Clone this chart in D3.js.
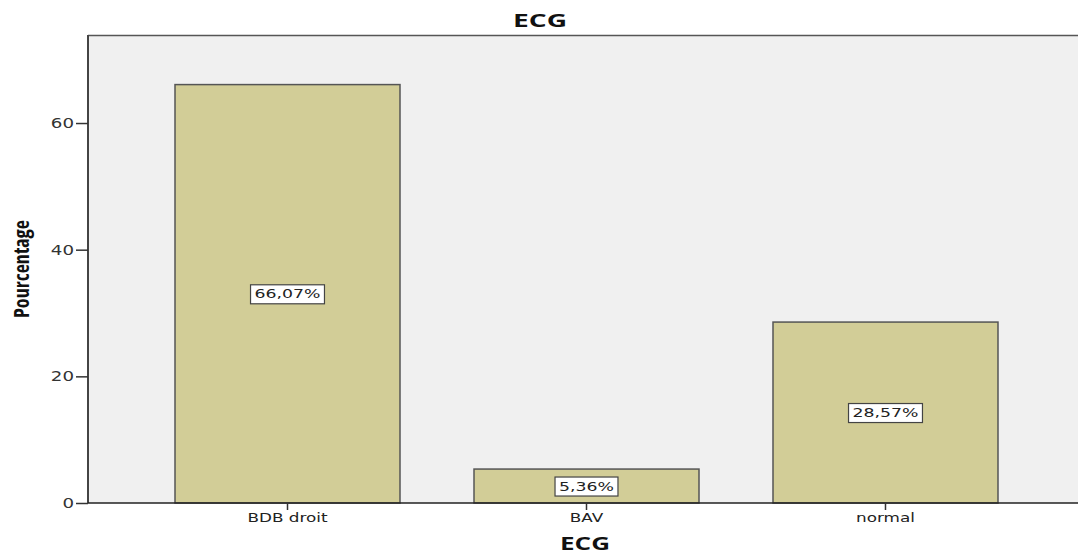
<html>
  <head>
    <title>ECG</title>
    <script src="https://d3js.org/d3.v7.min.js"></script>
    <style>
      body { margin: 0; background: #fff; }
    </style>
  </head>
  <body>
    <svg id="chart" width="1078" height="555"></svg>
    <script type="text/javascript">

// data
var categories = ["BDB droit", "BAV", "normal"];
var percents = [66.07, 5.36, 28.57];
var labels = ["66,07%", "5,36%", "28,57%"];
var yTicks = [0, 20, 40, 60];

var svg = d3.select("#chart");

// plot area (note: "top" is taken by window.top)
var pLeft = 88, pTop = 35, pBottom = 503, pRight = 1078;

// the source picture is stretched sideways, so widen the glyphs too
function stretch(sel, f) {
  sel.each(function () {
    var w = this.getComputedTextLength();
    d3.select(this).attr("textLength", w * f).attr("lengthAdjust", "spacingAndGlyphs");
  });
}

// scales
var x = d3.scaleBand()
  .domain(categories)
  .range([pLeft, 1085])
  .paddingInner(0.2475)
  .paddingOuter(0.291);

var y = d3.scaleLinear()
  .domain([0, 73.9])
  .range([pBottom, pTop]);

// plot background
svg.append("rect")
  .attr("x", pLeft).attr("y", pTop)
  .attr("width", pRight - pLeft).attr("height", pBottom - pTop)
  .style("fill", "#f0f0f0");

// top border
svg.append("line")
  .attr("x1", pLeft).attr("x2", pRight)
  .attr("y1", pTop + 0.5).attr("y2", pTop + 0.5)
  .style("stroke", "#555").style("stroke-width", 1.5);

// bars
svg.append("g").selectAll("rect")
  .data(percents)
  .enter().append("rect")
    .attr("x", function (d, i) { return x(categories[i]); })
    .attr("y", function (d) { return y(d); })
    .attr("width", x.bandwidth())
    .attr("height", function (d) { return pBottom - y(d); })
    .style("fill", "#d2cd97")
    .style("stroke", "#555")
    .style("stroke-width", 1.5);

// value labels
var lab = svg.append("g").selectAll("g")
  .data(percents)
  .enter().append("g")
    .attr("transform", function (d, i) {
      return "translate(" + (x(categories[i]) + x.bandwidth() / 2) + "," + ((y(d) + pBottom) / 2) + ")";
    });

var labRect = lab.append("rect");

var labText = lab.append("text")
  .attr("text-anchor", "middle")
  .attr("dy", "0.36em")
  .style("font-family", "DejaVu Sans")
  .style("font-size", "13px")
  .style("fill", "#222")
  .text(function (d, i) { return labels[i]; });
stretch(labText, 1.33);

labRect.each(function (d, i) {
  var w = +labText.nodes()[i].getAttribute("textLength") + 8;
  d3.select(this)
    .attr("x", -w / 2).attr("y", -9)
    .attr("width", w).attr("height", 19)
    .style("fill", "#fff")
    .style("stroke", "#444")
    .style("stroke-width", 1.2);
});

// y axis
var yAxis = svg.append("g")
  .attr("transform", "translate(" + pLeft + ",0)")
  .call(d3.axisLeft(y).tickValues(yTicks).tickSize(12).tickSizeOuter(0).tickPadding(2));
yAxis.select(".domain").attr("d", "M0," + pTop + "V" + pBottom).style("stroke", "#444").style("stroke-width", 2);
yAxis.selectAll(".tick line").style("stroke", "#333").style("stroke-width", 1.5);
yAxis.selectAll(".tick text")
  .style("font-family", "DejaVu Sans")
  .style("font-size", "14px")
  .style("fill", "#333");
stretch(yAxis.selectAll(".tick text"), 1.3);

// x axis
var xAxis = svg.append("g")
  .attr("transform", "translate(0," + pBottom + ")")
  .call(d3.axisBottom(x).tickSize(7).tickSizeOuter(0).tickPadding(3));
xAxis.select(".domain").attr("d", "M" + pLeft + ",0H" + pRight).style("stroke", "#222").style("stroke-width", 1.5);
xAxis.selectAll(".tick line").style("stroke", "#333").style("stroke-width", 1.5);
xAxis.selectAll(".tick text")
  .style("font-family", "DejaVu Sans")
  .style("font-size", "12px")
  .style("fill", "#222");
stretch(xAxis.selectAll(".tick text"), 1.4);

// titles
svg.append("text")
  .attr("x", 540).attr("y", 27)
  .attr("text-anchor", "middle")
  .attr("textLength", 54).attr("lengthAdjust", "spacingAndGlyphs")
  .style("font-family", "Open Sans")
  .style("font-weight", "bold")
  .style("font-size", "17px")
  .style("fill", "#111")
  .text("ECG");

svg.append("text")
  .attr("x", 585).attr("y", 550)
  .attr("text-anchor", "middle")
  .attr("textLength", 50).attr("lengthAdjust", "spacingAndGlyphs")
  .style("font-family", "Open Sans")
  .style("font-weight", "bold")
  .style("font-size", "18px")
  .style("fill", "#111")
  .text("ECG");

svg.append("text")
  .attr("transform", "translate(29,269) rotate(-90)")
  .attr("text-anchor", "middle")
  .attr("textLength", 98).attr("lengthAdjust", "spacingAndGlyphs")
  .style("font-family", "Open Sans")
  .style("font-weight", "bold")
  .style("font-size", "21px")
  .style("font-stretch", "condensed")
  .style("fill", "#111")
  .text("Pourcentage");

    </script>
  </body>
</html>
